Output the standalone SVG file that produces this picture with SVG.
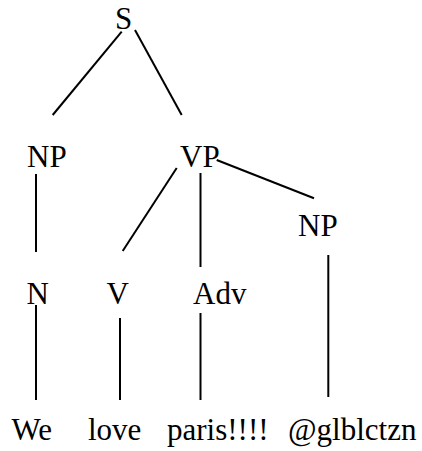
<svg xmlns="http://www.w3.org/2000/svg" width="422" height="451" viewBox="0 0 422 451">
<style>
text{font-family:"Liberation Serif","Times New Roman",serif;font-size:31px;fill:#000}
.e line{stroke:#000;stroke-width:2}
</style>
<rect width="422" height="451" fill="#fff"/>
<g class="e" id="edges">
<line x1="121.7" y1="31.7" x2="52.7" y2="115"/>
<line x1="135" y1="30" x2="181.7" y2="115"/>
<line x1="36" y1="174" x2="36" y2="252"/>
<line x1="176.7" y1="168" x2="122.7" y2="251"/>
<line x1="200.5" y1="173" x2="200.5" y2="267"/>
<line x1="216.7" y1="160" x2="314" y2="198.3"/>
<line x1="36" y1="305" x2="36" y2="400"/>
<line x1="120" y1="318" x2="120" y2="400"/>
<line x1="200.5" y1="313" x2="200.5" y2="400"/>
<line x1="328.3" y1="255" x2="328.3" y2="397"/>
</g>
<g id="S"><text x="115" y="29">S</text></g>
<g id="NP1"><text x="27" y="167">NP</text></g>
<g id="VP"><text x="180" y="167">VP</text></g>
<g id="NP2"><text x="298" y="236">NP</text></g>
<g id="N"><text x="26.5" y="304">N</text></g>
<g id="V"><text x="106.5" y="304">V</text></g>
<g id="Adv"><text x="193" y="304">Adv</text></g>
<g id="We"><text x="11.5" y="440">We</text></g>
<g id="love"><text x="88" y="440">love</text></g>
<g id="paris"><text x="167" y="440">paris!!!!</text></g>
<g id="glblctzn"><text x="288" y="440">@glblctzn</text></g>
</svg>
